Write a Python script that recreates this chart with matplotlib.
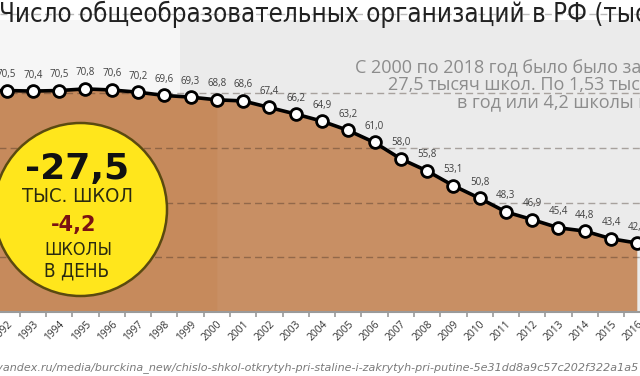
import matplotlib
matplotlib.use("Agg")
import matplotlib.pyplot as plt
from matplotlib.patches import Circle, Rectangle
import numpy as np

years = [1992, 1993, 1994, 1995, 1996, 1997, 1998, 1999, 2000, 2001, 2002, 2003,
         2004, 2005, 2006, 2007, 2008, 2009, 2010, 2011, 2012, 2013, 2014, 2015, 2016]
values = [70.5, 70.4, 70.5, 70.8, 70.6, 70.2, 69.6, 69.3, 68.8, 68.6, 67.4, 66.2,
          64.9, 63.2, 61.0, 58.0, 55.8, 53.1, 50.8, 48.3, 46.9, 45.4, 44.8, 43.4, 42.6]
labels = [f"{v:.1f}".replace(".", ",") for v in values]
gridvals = [40, 50, 60, 70]

title = "Число общеобразовательных организаций в РФ (тыс.)"
note_lines = ["С 2000 по 2018 год было было закрыто",
              "27,5 тысяч школ. По 1,53 тыс. школ",
              "в год или 4,2 школы в день"]
source = "zen.yandex.ru/media/burckina_new/chislo-shkol-otkrytyh-pri-staline-i-zakrytyh-pri-putine-5e31dd8a9c57c202f322a1a5"

W, H = 640, 376
fig = plt.figure(figsize=(W / 100, H / 100), dpi=100)
fig.patch.set_facecolor("white")

def fx(x):
    return x / W

def fy(y):
    return 1 - y / H

# axes geometry in pixels
ax_left, ax_right, ax_top, ax_bot = -6.5, 703.0, 20.0, 312.0
ax = fig.add_axes([fx(ax_left), fy(ax_bot), (ax_right - ax_left) / W, (ax_bot - ax_top) / H])
ax.set_facecolor("#f6f6f6")
n_total = 27  # 1992..2018 category slots
x = np.arange(len(years))
x0, x1 = -0.5, n_total - 0.5
ax.set_xlim(x0, x1)
ax.set_ylim(30, 83.4)

# shaded (post-2000) background
bx0 = (180 - ax_left) / (ax_right - ax_left) * n_total - 0.5
ax.add_patch(Rectangle((bx0, 30), 40, 60, facecolor="#ebebeb", edgecolor="none", zorder=0))

# series continues off the left edge of the frame
xs = np.concatenate([[x0], x])
vs = np.concatenate([[values[0]], values])

fill_col = "#c68a5c"
ax.fill_between(xs, vs, 30, color=fill_col, zorder=1, linewidth=0)
ax.fill_between(x[8:], np.array(values[8:]), 30, color="white", alpha=0.05, zorder=1.1, linewidth=0)

for g in gridvals:
    ax.axhline(g, color="#3a2a20", alpha=0.38, lw=1.0, ls=(0, (5, 3)), zorder=2)

ax.plot(xs, vs, color="black", lw=2.6, zorder=3, solid_capstyle="round")
ax.plot(x, values, ls="none", marker="o", ms=8.5, mfc="white", mec="black", mew=2.0, zorder=4)

for xi, v, lab in zip(x, values, labels):
    ax.annotate(lab, (xi, v), xytext=(0, 16), textcoords="offset pixels",
                ha="center", va="center", fontsize=7, color="#404040",
                family=["Open Sans", "DejaVu Sans"], zorder=5)

for s in ["top", "right", "left"]:
    ax.spines[s].set_visible(False)
ax.spines["bottom"].set_color("#9a9a9a")
ax.spines["bottom"].set_linewidth(1.5)
ax.set_yticks([])
ax.set_xticks(x)
ax.set_xticklabels([str(y) for y in years], rotation=45, ha="right", rotation_mode="anchor",
                   fontsize=7.4, color="#333333", family=["Open Sans", "DejaVu Sans"])
ax.tick_params(axis="x", which="major", length=0, pad=5)
ax.set_xticks(np.arange(n_total + 1) - 0.5, minor=True)
ax.tick_params(axis="x", which="minor", length=3.5, width=1.2, color="#9a9a9a")

# title and separator
fig.text(fx(-1), fy(14), title, ha="left", va="center", fontsize=18.5, color="#222222",
         family=["DejaVu Sans"], fontstretch="condensed")
fig.add_artist(plt.Line2D([0, 1], [fy(14), fy(14)], color="#bbbbbb", lw=1,
                          ls=(0, (5, 3)), transform=fig.transFigure))

# note text
for (lx, ly), line in zip([(355, 68), (388, 85), (457, 102)], note_lines):
    fig.text(fx(lx), fy(ly), line, ha="left", va="center", fontsize=13, color="#8c8c8c",
             family=["Open Sans", "DejaVu Sans"])

# yellow circle badge
circ = Circle((80.5 / 100, (H - 209.5) / 100), 86.5 / 100, transform=fig.dpi_scale_trans,
              facecolor="#ffe61c", edgecolor="#5a4a10", lw=1.8, zorder=10)
fig.add_artist(circ)
narrow = ["Liberation Sans Narrow", "DejaVu Sans"]
fig.text(fx(77), fy(169), "-27,5", ha="center", va="center", fontsize=26, fontweight="bold",
         color="#111111", family=["DejaVu Sans"], zorder=11)
fig.text(fx(77), fy(196), "ТЫС. ШКОЛ", ha="center", va="center", fontsize=14.5,
         color="#2a2a10", family=narrow, fontstretch="condensed", zorder=11)
fig.text(fx(74), fy(225), "-4,2", ha="center", va="center", fontsize=15, fontweight="bold",
         color="#7a1212", family=narrow, zorder=11)
fig.text(fx(78), fy(250), "ШКОЛЫ", ha="center", va="center", fontsize=13,
         color="#2a2a10", family=narrow, fontstretch="condensed", zorder=11)
fig.text(fx(77), fy(271), "В ДЕНЬ", ha="center", va="center", fontsize=13.5,
         color="#2a2a10", family=narrow, fontstretch="condensed", zorder=11)

# source
fig.text(fx(638), fy(368), source, ha="right", va="center", fontsize=8, style="italic",
         color="#7a7a7a", family=narrow)

fig.savefig("out.png", dpi=100)
